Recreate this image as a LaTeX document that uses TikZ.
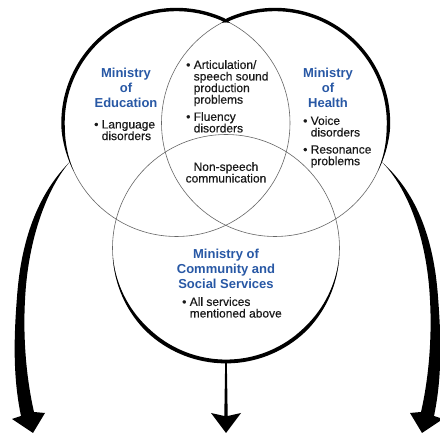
\documentclass[tikz,border=0pt]{standalone}
\usepackage{fontspec}
\setmainfont{Liberation Sans}
\newfontfamily\itemfont{Liberation Sans}[FakeBold=0.35]
\definecolor{ministry}{RGB}{40,88,165}
\newcommand\skipbullet{\hphantom{\textbullet\ }}
\tikzset{
  ring/.style={circle,draw=black!60,line width=0.6pt,minimum size=227pt,inner sep=0pt,outer sep=0pt},
  title/.style={text=ministry,font=\fontsize{13}{15}\selectfont\bfseries,align=center,inner sep=0pt},
  items/.style={text=black!90,font=\itemfont\fontsize{12}{11.6}\selectfont,align=left,inner sep=0pt},
}

\begin{document}
\begin{tikzpicture}[x=1pt,y=1pt,
  declare function={edurim(\t)=3.4*min(1,(205-\t)/22,(\t-62)/2.3);
                    healthrim(\t)=3.4*min(1,(\t+25)/22,(118-\t)/2.3);
                    commrim(\t)=3.8*min(1,(\t-185)/40,(355-\t)/40);}]
\fill[white] (0,0) rectangle (440,437);
\useasboundingbox (0,0) rectangle (440,437);

% the three ministries
\node[ring] (edu) at (176.5,314) {};
\node[ring] (health) at (275,314) {};
\node[ring] (comm) at (226,189) {};

% heavy outer rim, thinning out where the arrows leave
\fill[shift={(edu.center)}] plot[domain=62:205,samples=70] (\x:{113.5+0.5*edurim(\x)})
  -- plot[domain=205:62,samples=70] (\x:{113.5-0.5*edurim(\x)}) -- cycle;
\fill[shift={(health.center)}] plot[domain=-25:118,samples=70] (\x:{113.5+0.5*healthrim(\x)})
  -- plot[domain=118:-25,samples=70] (\x:{113.5-0.5*healthrim(\x)}) -- cycle;
\fill[shift={(comm.center)}] plot[domain=185:355,samples=70] (\x:{113.5+0.5*commrim(\x)})
  -- plot[domain=355:185,samples=70] (\x:{113.5-0.5*commrim(\x)}) -- cycle;

% arrows
\coordinate (lefttip) at (33,4);
\coordinate (midtip) at (226,4);
\coordinate (righttip) at (422,4);
\fill (edu.200) .. controls (45,250) and (22,210) .. (17,140)
  .. controls (13,90) and (14,55) .. (21,21) -- (12,18) -- (lefttip) -- (45,24) -- (34,25)
  .. controls (26,60) and (23,100) .. (25,137)
  .. controls (28,200) and (48,250) .. (edu.200) -- cycle;
\fill ([xshift=-0.8pt]comm.south) -- (224.3,21) -- (211,24) -- (midtip) -- (241,24)
  -- (227.7,21) -- ([xshift=0.8pt]comm.south) -- cycle;
\fill (health.340) .. controls (410,250) and (433,210) .. (438,140)
  .. controls (442,90) and (441,55) .. (434,21) -- (443,18) -- (righttip) -- (410,24) -- (421,25)
  .. controls (429,60) and (432,100) .. (430,137)
  .. controls (427,200) and (407,250) .. (health.340) -- cycle;

% labels
\node[title,anchor=north] (edutitle) at (126,369) {Ministry\\of\\Education};
\node[items,anchor=north west] (eduitem) at (94,317) {\textbullet\ Language\\\skipbullet disorders};
\node[items,anchor=north west] (shared) at (186,377) {\textbullet\ Articulation/\\\skipbullet speech sound\\\skipbullet production\\\skipbullet problems\\[5.5pt]\textbullet\ Fluency\\\skipbullet disorders};
\node[title,anchor=north] (healthtitle) at (328,369) {Ministry\\of\\Health};
\node[items,anchor=north west] (healthitem) at (303,321) {\textbullet\ Voice\\\skipbullet disorders\\[5.5pt]\textbullet\ Resonance\\\skipbullet problems};
\node[items,align=center,anchor=north] (core) at (226,275) {Non-speech\\communication};
\node[title,anchor=north] (commtitle) at (226,188) {Ministry of\\Community and\\Social Services};
\node[items,anchor=north west] (commitem) at (182,140) {\textbullet\ All services\\\skipbullet mentioned above};
\end{tikzpicture}
\end{document}
